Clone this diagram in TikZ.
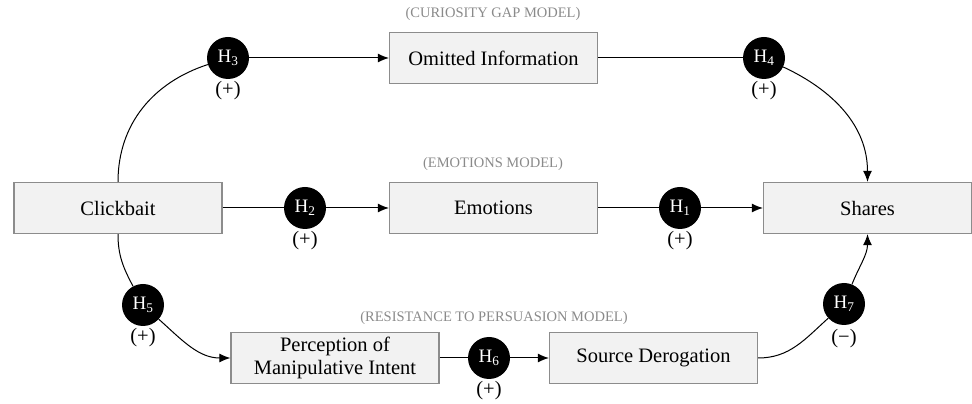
\documentclass[tikz,border=0pt]{standalone}
\usepackage{fontspec}
\setmainfont{Liberation Serif}
\usepackage{xcolor}
\usepackage{tikz}
\usetikzlibrary{arrows.meta, positioning}

\definecolor{boxfill}{HTML}{F2F2F2}
\definecolor{boxline}{HTML}{8C8C8C}
\definecolor{modelgray}{HTML}{8A8A8A}

\tikzset{
  varbox/.style={draw=boxline, line width=1.3pt, fill=boxfill, minimum width=208pt, minimum height=51pt, inner sep=0pt, align=center, font=\fontsize{20.5}{23}\selectfont},
  hyp/.style={circle, fill=black, text=white, minimum size=42pt, inner sep=0pt, font=\fontsize{19}{20}\selectfont},
  sign/.style={font=\fontsize{20.5}{21}\selectfont, inner sep=0pt},
  model/.style={text=modelgray, font=\fontsize{14.5}{16}\selectfont},
  link/.style={line width=1pt},
  arr/.style={link, -{Latex[length=11pt, width=9pt]}}
}

\begin{document}
\begin{tikzpicture}[x=1pt, y=1pt]
\useasboundingbox (0,0) rectangle (972,404);
% Variables
\node[varbox] (click) at (118,196) {Clickbait};
\node[varbox] (omit) at (493.5,346) {Omitted Information};
\node[varbox] (emo) at (493.5,196) {Emotions};
\node[varbox] (shares) at (867.5,196) {Shares};
\node[varbox] (manip) at (335,46) {Perception of\\Manipulative Intent};
\node[varbox] (derog) at (653.5,46) {Source Derogation};
% Model titles
\node[model] (curtitle) at (493,390) {(CURIOSITY GAP MODEL)};
\node[model] (emotitle) at (493,240) {(EMOTIONS MODEL)};
\node[model] (restitle) at (494,86) {(RESISTANCE TO PERSUASION MODEL)};
% Hypotheses
\node[hyp, label={[sign, label distance=2pt]below:(+)}] (h3) at (228,346) {H\textsubscript{3}};
\node[hyp, label={[sign, label distance=2pt]below:(+)}] (h4) at (764,346) {H\textsubscript{4}};
\node[hyp, label={[sign, label distance=2pt]below:(+)}] (h2) at (305,196) {H\textsubscript{2}};
\node[hyp, label={[sign, label distance=2pt]below:(+)}] (h1) at (680,196) {H\textsubscript{1}};
\node[hyp, label={[sign, label distance=2pt]below:(+)}] (h5) at (143,99) {H\textsubscript{5}};
\node[hyp, label={[sign, label distance=2pt]below:(+)}] (h6) at (489,46) {H\textsubscript{6}};
\node[hyp, label={[sign, label distance=4pt]below:(−)}] (h7) at (844,100) {H\textsubscript{7}};
% Curiosity gap path
\draw[link] (click.north) to[out=90, in=198] (h3);
\draw[arr] (h3) -- (omit);
\draw[link] (omit) -- (h4);
\draw[arr] (h4) to[out=-25, in=90] (shares.north);
% Emotions path
\draw[link] (click) -- (h2);
\draw[arr] (h2) -- (emo);
\draw[link] (emo) -- (h1);
\draw[arr] (h1) -- (shares);
% Resistance path
\draw[link] (click.south) to[out=-90, in=118] (h5);
\draw[arr] (h5) to[out=-42, in=180] (manip.west);
\draw[link] (manip) -- (h6);
\draw[arr] (h6) -- (derog);
\draw[link] (derog.east) to[out=0, in=222] (h7);
\draw[arr] (h7) to[out=68, in=-90] (shares.south);
\end{tikzpicture}
\end{document}
